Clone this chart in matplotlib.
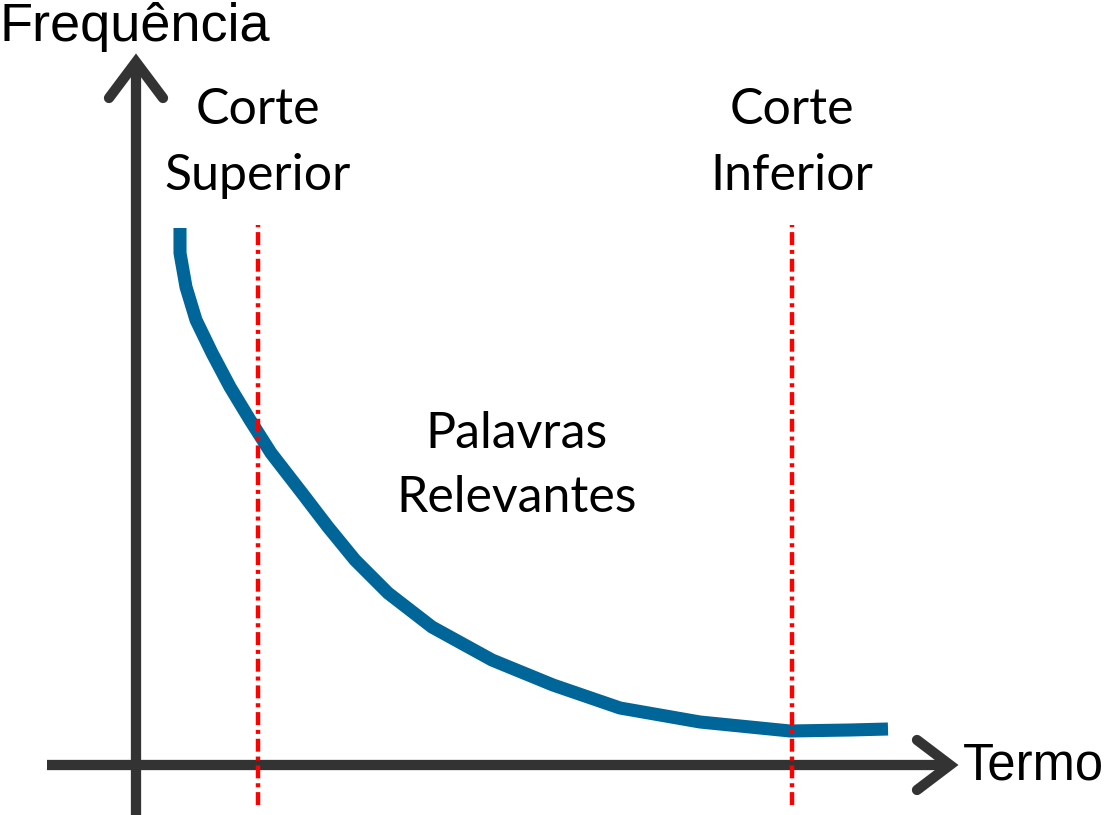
import matplotlib
matplotlib.use("Agg")
import matplotlib.pyplot as plt

# Data (diagram units: origin at the axes crossing)
termo = [44, 44, 50, 60, 76, 94, 114, 135, 166, 192, 219, 252, 296, 356, 417, 484, 564, 654, 714, 752]
frequencia = [537, 512, 478, 445, 412, 378, 345, 312, 272, 238, 205, 172, 138, 105, 80, 57, 43, 34, 35, 36]
cortes = [122, 656]
corte_labels = ["Corte\nSuperior", "Corte\nInferior"]
meio_label = ["Palavras", "Relevantes"]

fig = plt.figure(figsize=(11.1, 8.15), dpi=100)
ax = fig.add_axes([0, 0, 1, 1])
ax.set_xlim(-136, 974)
ax.set_ylim(-50, 765)
ax.axis("off")

axc = "#333333"
lw_ax = 7.4
# y axis + arrow
ax.plot([0, 0], [-50, 703], color=axc, lw=lw_ax, solid_capstyle="butt")
ax.plot([-27, 0, 27], [667, 703, 667], color=axc, lw=lw_ax,
        solid_capstyle="round", solid_joinstyle="miter")
# x axis + arrow
ax.plot([-89, 812], [0, 0], color=axc, lw=lw_ax, solid_capstyle="butt")
ax.plot([781, 814, 781], [25, 0, -25], color=axc, lw=lw_ax,
        solid_capstyle="round", solid_joinstyle="miter")

# cut lines (dash-dot)
for c in cortes:
    ax.plot([c, c], [-40, 540], color="#ff0000", lw=3.2,
            dashes=(2.9, 1.1, 0.9, 1.1), dash_capstyle="butt", zorder=3)

# curve
ax.plot(termo, frequencia, color="#006699", lw=9.4, solid_capstyle="butt",
        solid_joinstyle="round", zorder=2)

# texts
tf = "Lato"
for c, lab in zip(cortes, corte_labels):
    l1, l2 = lab.split("\n")
    ax.text(c, 641, l1, ha="center", va="baseline", fontsize=36, family=tf)
    ax.text(c, 575, l2, ha="center", va="baseline", fontsize=36, family=tf)
ax.text(381, 317, meio_label[0], ha="center", va="baseline", fontsize=36, family=tf)
ax.text(381, 253, meio_label[1], ha="center", va="baseline", fontsize=36, family=tf)

ax.text(-136, 724, "Frequência", ha="left", va="baseline", fontsize=39,
        family="Liberation Sans")
ax.text(827, -15, "Termo", ha="left", va="baseline", fontsize=36.5,
        family="Liberation Sans")

fig.savefig("out.png", dpi=100)
